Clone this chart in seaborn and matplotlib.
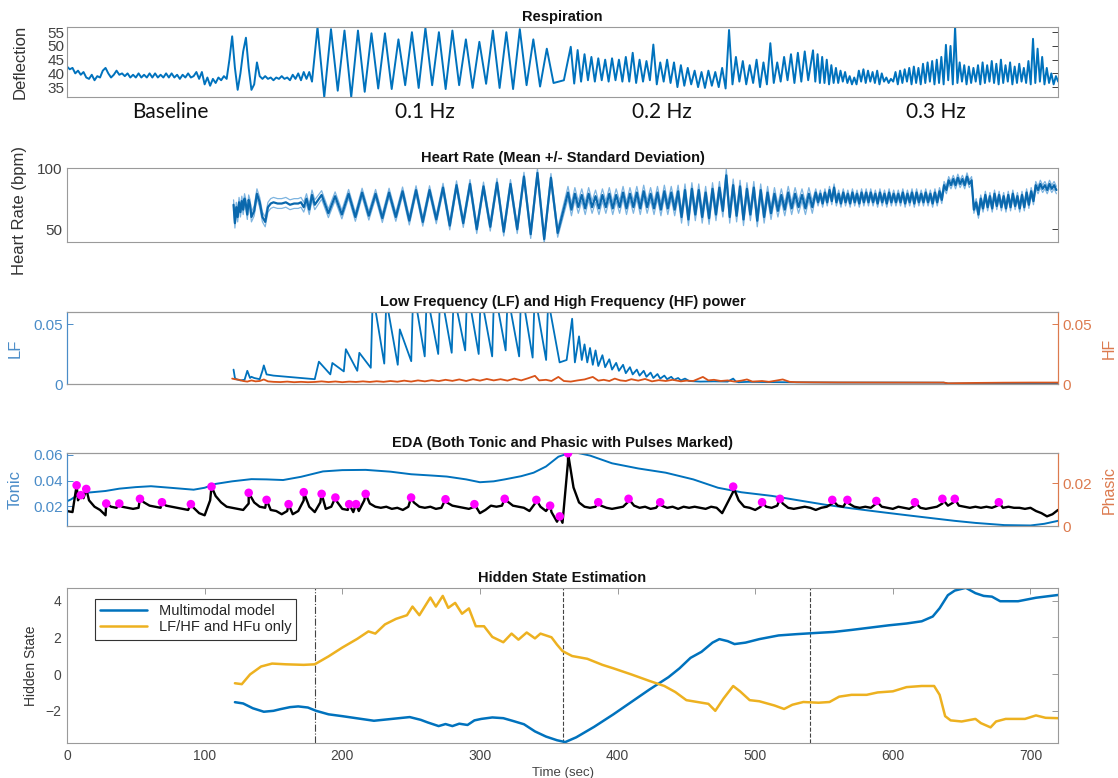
import numpy as np
import pandas as pd
import matplotlib
matplotlib.use('Agg')
import matplotlib.pyplot as plt
import matplotlib.transforms as mtransforms
import seaborn as sns

# ---------------- values ----------------
# Respiration, unpaced part (every 2 s from 0 to 178 s)
resp_base_t = list(range(0, 180, 2))
resp_base = [42.5, 41.5, 42, 40, 41, 39.5, 40.5, 38.5, 38, 39.5,
             37.5, 39, 38.5, 41, 42, 40, 38.5, 39.5, 41, 39.5,
             40, 39, 40, 38.5, 39.5, 38.5, 40, 38.5, 39.5, 38.5,
             40, 38.5, 40, 38.5, 39.5, 38.5, 40, 38.5, 40, 38.5,
             39.5, 38, 39.5, 38.5, 40, 38.5, 39, 40.5, 38, 40.5,
             36, 38.5, 35.5, 38, 36.5, 38.5, 37.5, 39, 38, 45,
             53.5, 42, 34, 40, 48, 53, 42, 34, 36, 44,
             39, 38, 39, 38, 38.5, 37.5, 38.5, 38, 39, 38,
             38.5, 37.5, 39.5, 38, 40, 37.5, 40.5, 38, 40.5, 37]
# paced breathing: one peak and one trough per breath
resp_01_start, resp_01_period = 182, 9.8
resp_01_peak = [56.8, 56.1, 55.6, 55.6, 54.6, 54.6, 52.4, 55.0, 56.5,
                55.0, 55.6, 52.4, 51.5, 55.6, 55.0, 56.1, 52.4, 49.0]
resp_01_trough = [31.4, 33.7, 31.4, 33.3, 34.5, 34.3, 35.7, 34.7, 35.7,
                  34.3, 35.7, 34.7, 36.2, 34.7, 34.3, 35.7, 35.2, 36.5]
resp_gap = [(361, 37.5)]
resp_02_start, resp_02_period = 366, 5.0
resp_02_peak = [49.7, 48.5, 47, 46, 45.5, 45, 45.5, 45, 46, 47.5,
                45, 44.5, 50.5, 44, 45, 44, 43, 42, 41, 40.5,
                41, 40.5, 42, 55.8, 46, 44.5, 43, 45, 44, 51,
                44, 46, 47, 47.5, 48]
resp_02_trough = [36.3, 37, 37.5, 37, 37.5, 37, 37.5, 37, 37, 36.5,
                  37, 37.5, 36, 37, 36.5, 35, 35.5, 36, 35, 34.7,
                  35.5, 35, 34.5, 36, 37, 36, 36.5, 35, 36, 36.5,
                  37, 37.5, 36.5, 37, 37.5]
resp_03_start, resp_03_period = 542, 3.33
resp_03_peak = [48.4, 47, 46, 45, 43, 42, 41, 40.5, 39, 38.5,
                41, 41.5, 41, 40.5, 41, 40, 38.5, 38, 40.5, 41,
                41.5, 42, 42.5, 42, 43.5, 44, 44.5, 45, 46, 50.4,
                50, 57, 44, 43, 42.5, 42, 43, 44, 43, 44.5,
                43.5, 45, 43, 44, 42.5, 43.5, 42, 44.5, 52.6, 49,
                46, 42, 40, 39]
resp_03_trough = [37, 36.5, 36.5, 36, 36.5, 36.5, 37, 36.5, 36, 36,
                  37, 36.5, 37, 36.5, 36, 37, 36.5, 37, 36, 36.5,
                  37, 36, 36.5, 36, 36.5, 37, 36, 36.5, 36, 37.5,
                  36, 36.5, 37, 36, 36.5, 37, 36, 36.5, 37, 36.5,
                  36, 36.5, 37, 36, 36.5, 37, 36.5, 36, 36.5, 37,
                  36, 36.5, 36, 37]
phase_names = ['Baseline', '0.1 Hz', '0.2 Hz', '0.3 Hz']
phase_label_t = [75, 260, 432, 631]

# Heart rate (bpm): mean and standard deviation
hr_a = [(121, 70), (122, 55), (123, 68), (124, 60), (125, 72), (126, 64), (127, 73),
        (128, 66), (129, 75), (130, 70), (131, 62), (132, 74), (133, 70), (134, 60),
        (136, 65), (138, 79), (140, 72), (142, 60), (144, 56), (146, 68), (148, 71),
        (150, 72), (153, 71), (156, 71), (159, 72), (162, 70), (165, 71), (168, 71),
        (170, 72), (172, 68), (174, 75), (176, 66), (178, 78), (180, 70)]
hr_b_start, hr_b_period = 185, 9.8
hr_b_peak = [78, 77, 79, 80, 79, 80, 81, 82, 82, 84, 86, 87, 85, 88, 87, 93, 96, 92]
hr_b_trough = [63, 62, 60, 61, 59, 60, 57, 56, 58, 53, 55, 50, 52, 48, 50, 46, 42, 47]
hr_c_start, hr_c_period = 364, 5.0
hr_c_peak = [80, 79, 78, 79, 77, 78, 79, 78, 80, 79, 80, 81, 79, 80, 81, 80, 81, 82,
             83, 82, 80, 83, 84, 94, 86, 85, 83, 84, 82, 80, 79, 78, 80, 79, 78, 79]
hr_c_trough = [66, 68, 67, 68, 67, 68, 67, 68, 67, 68, 67, 68, 67, 66, 67, 66, 60, 58,
               62, 60, 59, 62, 65, 60, 61, 58, 62, 57, 60, 63, 65, 66, 67, 68, 67, 68]
hr_d_start, hr_d_period = 544, 3.33
hr_d_peak = [80, 79, 80, 82, 84, 79, 80, 79, 80, 79, 80, 80, 80, 79, 80, 79, 80, 79,
             79, 80, 79, 80, 80, 79, 80, 79, 80, 81, 86, 90, 91, 92, 91, 93, 90, 72,
             75, 78, 77, 79, 78, 77, 78, 79, 77, 78, 80, 81, 86, 87, 86, 87, 86]
hr_d_trough = [72, 71, 72, 73, 72, 71, 72, 71, 72, 71, 72, 72, 72, 71, 72, 71, 72, 72,
               72, 71, 72, 71, 72, 72, 72, 71, 72, 74, 82, 86, 86, 87, 86, 87, 66, 62,
               67, 68, 67, 69, 68, 67, 68, 69, 67, 68, 70, 73, 82, 83, 82, 83, 82]
hr_sd = {'a': 4.0, 'b': 3.5, 'c': 5.0, 'd': 3.0}

# LF / HF power
lf_a = [(121, 0.012), (122, 0.005), (123, 0.004), (126, 0.003), (129, 0.0035),
        (131, 0.011), (133, 0.005), (134, 0.006), (136, 0.005), (140, 0.004),
        (142, 0.011), (143, 0.0155), (145, 0.008), (150, 0.007), (155, 0.0065),
        (160, 0.006), (165, 0.0055), (170, 0.005), (175, 0.0045), (180, 0.004)]
lf_b_start, lf_b_period = 183, 9.8
lf_b_peak = [0.0186, 0.0175, 0.029, 0.026, 0.075, 0.07, 0.0455, 0.08, 0.075,
             0.08, 0.075, 0.08, 0.075, 0.08, 0.075, 0.08, 0.075, 0.07]
lf_b_trough = [0.008, 0.0105, 0.011, 0.0135, 0.017, 0.016, 0.019, 0.023, 0.025,
               0.026, 0.028, 0.025, 0.023, 0.028, 0.023, 0.022, 0.02, 0.018]
lf_c = [(363, 0.02), (367, 0.0544), (369, 0.018), (372, 0.0397), (374, 0.02), (376, 0.033),
        (378, 0.018), (380, 0.03), (382, 0.016), (384, 0.028), (386, 0.015), (389, 0.024),
        (391, 0.014), (394, 0.0206), (396, 0.012), (399, 0.0176), (401, 0.011), (404, 0.016),
        (406, 0.009), (409, 0.014), (411, 0.008), (414, 0.012), (416, 0.007), (419, 0.011),
        (421, 0.006), (424, 0.0095), (426, 0.005), (429, 0.0083), (431, 0.0045), (434, 0.007),
        (436, 0.004), (439, 0.006), (441, 0.0035), (444, 0.005), (446, 0.003), (449, 0.0045),
        (452, 0.0025), (460, 0.002), (470, 0.0022), (480, 0.002), (484, 0.0045), (486, 0.002),
        (488, 0.0015), (495, 0.0018), (510, 0.0016), (530, 0.0014), (560, 0.0012),
        (600, 0.0012), (637, 0.0011), (640, 0.0004), (680, 0.0004), (720, 0.0005)]
hf = [(120, .0045), (122, .004), (125, .0035), (128, .0025), (131, .002), (134, .003),
      (137, .0022), (140, .0025), (143, .0038), (146, .0022), (150, .0018), (155, .0016),
      (160, .002), (165, .0015), (170, .0018), (175, .0015), (180, .0017), (185, .0022),
      (190, .0016), (195, .0021), (200, .0015), (205, .002), (210, .0017), (215, .0022),
      (220, .0017), (225, .0023), (230, .0018), (235, .0025), (240, .0019), (245, .0028),
      (250, .002), (255, .003), (260, .0022), (265, .0032), (270, .0024), (275, .0035),
      (280, .0026), (285, .0038), (290, .0025), (295, .004), (300, .0028), (305, .0042),
      (310, .003), (315, .004), (320, .0028), (325, .0045), (330, .003), (335, .0048),
      (340, .0068), (343, .003), (348, .0035), (352, .0025), (357, .0059), (361, .0025),
      (366, .002), (371, .003), (376, .0038), (382, .0059), (386, .0028), (390, .0035),
      (394, .0025), (398, .0045), (402, .003), (406, .0025), (410, .004), (415, .0028),
      (420, .0042), (425, .0022), (430, .0032), (435, .0025), (440, .0035), (446, .0022),
      (450, .0028), (455, .0025), (462, .0059), (466, .003), (470, .0035), (475, .0025),
      (480, .003), (485, .002), (490, .0028), (494, .0038), (498, .002), (505, .0025),
      (510, .0018), (515, .0028), (520, .0038), (525, .0018), (530, .0015), (540, .0014),
      (560, .0013), (600, .0012), (637, .0012), (640, .0006), (660, .0009), (680, .0011),
      (700, .0012), (720, .0012)]

# EDA: tonic level and phasic signal with detected pulses
tonic = [(0, 0.024), (3, 0.0255), (8, 0.029), (12, 0.0305), (18, 0.031), (28, 0.032),
         (38, 0.0338), (50, 0.035), (61, 0.0357), (75, 0.0345), (92, 0.033), (100, 0.0345),
         (108, 0.0375), (120, 0.0395), (134, 0.0412), (145, 0.041), (157, 0.0405),
         (170, 0.043), (186, 0.0472), (200, 0.0482), (217, 0.0484), (235, 0.047),
         (250, 0.045), (265, 0.044), (276, 0.0432), (290, 0.041), (300, 0.0388),
         (310, 0.0395), (318, 0.041), (330, 0.0435), (339, 0.0462), (348, 0.051),
         (357, 0.0586), (364, 0.0612), (370, 0.0618), (380, 0.0595), (396, 0.0535),
         (415, 0.0495), (435, 0.0462), (455, 0.041), (473, 0.0345), (490, 0.031),
         (512, 0.0282), (530, 0.025), (551, 0.0213), (570, 0.0185), (590, 0.0158),
         (610, 0.0132), (629, 0.0108), (645, 0.0088), (660, 0.0072), (681, 0.0055),
         (700, 0.0052), (710, 0.0065), (720, 0.0088)]
phasic_t = list(range(0, 724, 4))
phasic = [0.007, 0.0065, 0.012, 0.013, 0.012, 0.009, 0.0075, 0.005, 0.009, 0.0085,
          0.009, 0.0085, 0.008, 0.0085, 0.011, 0.0095, 0.009, 0.0085, 0.0095, 0.009,
          0.0085, 0.008, 0.0075, 0.0085, 0.006, 0.005, 0.012, 0.014, 0.011, 0.009,
          0.0085, 0.008, 0.0075, 0.0105, 0.011, 0.009, 0.0085, 0.0075, 0.007, 0.0055,
          0.007, 0.0055, 0.007, 0.012, 0.009, 0.0065, 0.011, 0.008, 0.009, 0.0115,
          0.008, 0.0075, 0.0065, 0.007, 0.012, 0.0105, 0.009, 0.0085, 0.009, 0.008,
          0.0085, 0.0075, 0.009, 0.011, 0.009, 0.0085, 0.009, 0.008, 0.0085, 0.011,
          0.0095, 0.009, 0.0085, 0.008, 0.009, 0.006, 0.0075, 0.0095, 0.009, 0.0095,
          0.0115, 0.0095, 0.009, 0.0085, 0.007, 0.0105, 0.009, 0.007, 0.0065, 0.002,
          0.0015, 0.03, 0.018, 0.011, 0.009, 0.0085, 0.009, 0.0095, 0.0085, 0.008,
          0.0085, 0.009, 0.0115, 0.0095, 0.0085, 0.009, 0.008, 0.0085, 0.0095, 0.0085,
          0.009, 0.008, 0.009, 0.0085, 0.009, 0.0085, 0.008, 0.009, 0.0085, 0.006,
          0.011, 0.016, 0.012, 0.009, 0.0085, 0.0075, 0.009, 0.009, 0.0085, 0.0095,
          0.0105, 0.0085, 0.008, 0.0085, 0.009, 0.0085, 0.0075, 0.0085, 0.009, 0.0105,
          0.0095, 0.009, 0.0105, 0.009, 0.0085, 0.009, 0.0085, 0.0105, 0.009, 0.0085,
          0.008, 0.009, 0.0085, 0.008, 0.0095, 0.0085, 0.008, 0.0085, 0.009, 0.0105,
          0.0095, 0.011, 0.0095, 0.009, 0.0085, 0.009, 0.0085, 0.009, 0.0085, 0.0095,
          0.0085, 0.009, 0.0085, 0.0085, 0.008, 0.0085, 0.007, 0.006, 0.0045, 0.0055,
          0.0075]
pulses = [(7, 0.019), (10, 0.0144), (14, 0.0173), (28.5, 0.0105), (38, 0.0105),
          (53, 0.0127), (69, 0.0111), (90, 0.0102), (105, 0.0184), (132, 0.0155),
          (145, 0.0122), (161, 0.0102), (172, 0.0158), (185, 0.015), (195, 0.0133),
          (205, 0.0102), (210, 0.0102), (217, 0.015), (250, 0.0133), (275, 0.0125),
          (296, 0.0102), (318, 0.0127), (341, 0.0122), (351, 0.0095), (358, 0.0045),
          (364, 0.034), (386, 0.0111), (408, 0.0127), (431, 0.0111), (484, 0.0184),
          (505, 0.0111), (518, 0.0127), (556, 0.0122), (567, 0.0122), (588, 0.0117),
          (616, 0.0111), (636, 0.0127), (645, 0.0127), (677, 0.0111)]

# Hidden state estimates
hs_multi = [(122, -1.53), (128, -1.6), (135, -1.86), (143, -2.05), (150, -2.0), (155, -1.91),
            (162, -1.8), (168, -1.76), (175, -1.82), (181, -2.0), (190, -2.19), (200, -2.29),
            (211, -2.41), (223, -2.54), (236, -2.44), (249, -2.34), (257, -2.49), (262, -2.63),
            (270, -2.83), (275, -2.72), (280, -2.83), (285, -2.7), (291, -2.77), (296, -2.52),
            (301, -2.44), (309, -2.36), (317, -2.4), (324, -2.55), (332, -2.73), (340, -3.12),
            (348, -3.4), (356, -3.6), (362, -3.7), (370, -3.44), (383, -2.87), (397, -2.19),
            (410, -1.52), (423, -0.85), (437, -0.17), (445, 0.31), (453, 0.88), (461, 1.21),
            (469, 1.71), (474, 1.9), (480, 1.79), (485, 1.63), (493, 1.71), (503, 1.9),
            (517, 2.1), (530, 2.17), (543, 2.23), (557, 2.29), (570, 2.4), (583, 2.52),
            (597, 2.65), (610, 2.75), (621, 2.87), (629, 3.13), (634, 3.58), (640, 4.29),
            (645, 4.54), (653, 4.69), (660, 4.4), (666, 4.25), (672, 4.21), (678, 3.96),
            (691, 3.96), (704, 4.15), (720, 4.3)]
hs_lfhf = [(122, -0.5), (127, -0.55), (133, -0.02), (141, 0.41), (149, 0.57), (159, 0.53),
           (172, 0.5), (180, 0.53), (190, 0.96), (200, 1.44), (211, 1.92), (219, 2.32),
           (224, 2.2), (231, 2.7), (239, 3.0), (247, 3.2), (251, 3.67), (256, 3.2),
           (264, 4.16), (268, 3.67), (273, 4.25), (277, 3.6), (282, 3.87), (287, 3.28),
           (292, 3.57), (297, 2.6), (303, 2.6), (309, 2.02), (317, 1.73), (323, 2.2),
           (328, 1.87), (334, 2.26), (340, 1.94), (344, 2.2), (352, 2.0), (356, 1.6),
           (360, 1.25), (367, 0.98), (378, 0.83), (389, 0.5), (397, 0.31), (410, -0.02),
           (423, -0.37), (434, -0.65), (442, -0.98), (450, -1.42), (458, -1.52), (466, -1.62),
           (471, -2.0), (477, -1.33), (484, -0.65), (489, -0.94), (496, -1.42), (503, -1.48),
           (514, -1.71), (521, -1.9), (527, -1.67), (535, -1.52), (546, -1.56), (554, -1.52),
           (561, -1.23), (570, -1.13), (581, -1.13), (589, -1.0), (600, -0.94), (610, -0.71),
           (621, -0.65), (630, -0.65), (634, -1.13), (638, -2.29), (642, -2.52), (650, -2.58),
           (660, -2.44), (664, -2.67), (671, -2.9), (675, -2.58), (682, -2.44), (696, -2.44),
           (704, -2.25), (711, -2.38), (720, -2.4)]
phase_bounds = [180, 360, 540]
phase_styles = ['-.', '--', '--']

# ---------------- helpers ----------------
BLUE = '#0072BD'
ORANGE = '#D95319'
YELLOW = '#EDB120'
AX_BLUE = '#4a8cc8'
AX_ORANGE = '#dc7a4e'


def paced(start, period, peaks, troughs, offset):
    t, v = [], []
    for i, (p, q) in enumerate(zip(peaks, troughs)):
        t += [start + i * period, start + i * period + offset]
        v += [p, q]
    return t, v


def frame(pairs):
    t, v = zip(*pairs)
    return pd.DataFrame({'t': t, 'v': v})


def style(ax, left_color='#9a9a9a', right_color='#9a9a9a'):
    for name, s in ax.spines.items():
        s.set_linewidth(0.8)
        s.set_color('#9a9a9a')
    ax.spines['left'].set_color(left_color)
    ax.spines['right'].set_color(right_color)
    ax.set_xlim(0, 720)
    ax.set_xticks([])
    ax.tick_params(axis='y', direction='in', length=4, width=0.7,
                   colors='#404040', labelsize=10.5, pad=3)
    ax.set_xlabel('')


# ---------------- figure ----------------
sns.set_theme(style='white')
plt.rcParams['font.family'] = ['Liberation Sans', 'DejaVu Sans']

fig = plt.figure(figsize=(11.18, 7.78), dpi=100)
L, W = 67 / 1118, 991 / 1118


def box(top, bottom):
    return [L, 1 - bottom / 778, W, (bottom - top) / 778]


ax1 = fig.add_axes(box(27, 97))
ax2 = fig.add_axes(box(168, 242))
ax3 = fig.add_axes(box(312, 384))
ax4 = fig.add_axes(box(453, 526))
ax5 = fig.add_axes(box(588, 743))
title_kw = dict(fontweight='bold', fontsize=10.5, pad=4, color='#111111')

# --- respiration
rt, rv = list(resp_base_t), list(resp_base)
seg = paced(resp_01_start, resp_01_period, resp_01_peak, resp_01_trough, resp_01_period / 2)
rt += seg[0]; rv += seg[1]
rt += [g[0] for g in resp_gap]; rv += [g[1] for g in resp_gap]
for seg in [paced(resp_02_start, resp_02_period, resp_02_peak, resp_02_trough, resp_02_period / 2),
            paced(resp_03_start, resp_03_period, resp_03_peak, resp_03_trough, resp_03_period / 2)]:
    rt += seg[0]; rv += seg[1]
resp = pd.DataFrame({'t': rt, 'v': rv})
sns.lineplot(data=resp, x='t', y='v', ax=ax1, color=BLUE, lw=1.4, estimator=None, sort=False)
style(ax1)
ax1.set_ylim(31.4, 56.9)
ax1.set_yticks([35, 40, 45, 50, 55])
ax1.tick_params(axis='y', right=True, labelsize=11, pad=2)
ax1.set_ylabel('Deflection', fontsize=12, color='#333333')
ax1.yaxis.set_label_coords(-0.040, 0.5)
ax1.set_title('Respiration', **title_kw)
trans = mtransforms.blended_transform_factory(ax1.transData, ax1.transAxes)
for name, t in zip(phase_names, phase_label_t):
    ax1.text(t, -0.22, name, transform=trans, ha='center', va='center',
             fontsize=15, family=['Lato', 'DejaVu Sans'], color='#111111')

# --- heart rate
ht, hv, hs = [g[0] for g in hr_a], [g[1] for g in hr_a], ['a'] * len(hr_a)
for key, seg in [('b', paced(hr_b_start, hr_b_period, hr_b_peak, hr_b_trough, hr_b_period / 2)),
                 ('c', paced(hr_c_start, hr_c_period, hr_c_peak, hr_c_trough, hr_c_period / 2)),
                 ('d', paced(hr_d_start, hr_d_period, hr_d_peak, hr_d_trough, hr_d_period / 2))]:
    ht += seg[0]; hv += seg[1]; hs += [key] * len(seg[0])
hr = pd.DataFrame({'t': ht, 'mean': hv, 'seg': hs})
hr['sd'] = hr['seg'].map(hr_sd)
hr['upper'] = hr['mean'] + hr['sd']
hr['lower'] = hr['mean'] - hr['sd']
for col in ['upper', 'lower']:
    sns.lineplot(data=hr, x='t', y=col, ax=ax2, color='#7db4e0', lw=0.9,
                 estimator=None, sort=False)
sns.lineplot(data=hr, x='t', y='mean', ax=ax2, color='#0a68ad', lw=1.6,
             estimator=None, sort=False)
style(ax2)
ax2.set_ylim(39.6, 100)
ax2.set_yticks([50, 100])
ax2.tick_params(axis='y', right=True, labelsize=11)
ax2.set_ylabel('Heart Rate (bpm)', fontsize=12, color='#333333')
ax2.yaxis.set_label_coords(-0.040, 0.42)
ax2.set_title('Heart Rate (Mean +/- Standard Deviation)', **title_kw)

# --- LF / HF
lt, lv = [g[0] for g in lf_a], [g[1] for g in lf_a]
seg = paced(lf_b_start, lf_b_period, lf_b_peak, lf_b_trough, 8.3)
lt += seg[0]; lv += seg[1]
lt += [g[0] for g in lf_c]; lv += [g[1] for g in lf_c]
lf = pd.DataFrame({'t': lt, 'v': lv})
sns.lineplot(data=lf, x='t', y='v', ax=ax3, color=BLUE, lw=1.3, estimator=None, sort=False)
ax3r = ax3.twinx()
sns.lineplot(data=frame(hf), x='t', y='v', ax=ax3r, color=ORANGE, lw=1.3,
             estimator=None, sort=False)
style(ax3, left_color=AX_BLUE, right_color=AX_ORANGE)
style(ax3r, left_color=AX_BLUE, right_color=AX_ORANGE)
ax3.set_ylim(0, 0.06)
ax3r.set_ylim(0, 0.06)
ax3.set_yticks([0, 0.05])
ax3.set_yticklabels(['0', '0.05'])
ax3r.set_yticks([0, 0.05])
ax3r.set_yticklabels(['0', '0.05'])
ax3.tick_params(axis='y', colors=AX_BLUE, labelsize=11)
ax3r.tick_params(axis='y', colors=AX_ORANGE, labelsize=11)
ax3.set_ylabel('LF', fontsize=12, color=AX_BLUE)
ax3.yaxis.set_label_coords(-0.045, 0.5)
ax3r.set_ylabel('HF', fontsize=11.5, color=AX_ORANGE)
ax3r.yaxis.set_label_coords(1.044, 0.5)
ax3.set_title('Low Frequency (LF) and High Frequency (HF) power', **title_kw)

# --- EDA
sns.lineplot(data=frame(tonic), x='t', y='v', ax=ax4, color=BLUE, lw=1.4,
             estimator=None, sort=False)
ax4r = ax4.twinx()
ph = pd.concat([pd.DataFrame({'t': phasic_t, 'v': phasic}), frame(pulses)])
ph = ph.sort_values('t', kind='stable')
sns.lineplot(data=ph, x='t', y='v', ax=ax4r, color='black', lw=1.7,
             estimator=None, sort=False)
sns.scatterplot(data=frame(pulses), x='t', y='v', ax=ax4r, color='#ff00ff',
                s=38, edgecolor='none', zorder=5)
style(ax4, left_color=AX_BLUE, right_color=AX_ORANGE)
style(ax4r, left_color=AX_BLUE, right_color=AX_ORANGE)
ax4.set_ylim(0.0048, 0.0615)
ax4.set_yticks([0.02, 0.04, 0.06])
ax4.set_yticklabels(['0.02', '0.04', '0.06'])
ax4r.set_ylim(0, 0.0341)
ax4r.set_yticks([0, 0.02])
ax4r.set_yticklabels(['0', '0.02'])
ax4.tick_params(axis='y', colors=AX_BLUE, labelsize=11)
ax4r.tick_params(axis='y', colors=AX_ORANGE, labelsize=11)
ax4.set_ylabel('Tonic', fontsize=12, color=AX_BLUE)
ax4.yaxis.set_label_coords(-0.045, 0.5)
ax4r.set_ylabel('Phasic', fontsize=11.5, color=AX_ORANGE)
ax4r.yaxis.set_label_coords(1.044, 0.5)
ax4.set_title('EDA (Both Tonic and Phasic with Pulses Marked)', **title_kw)

# --- hidden state
sns.lineplot(data=frame(hs_multi), x='t', y='v', ax=ax5, color=BLUE, lw=1.8,
             estimator=None, sort=False, label='Multimodal model')
sns.lineplot(data=frame(hs_lfhf), x='t', y='v', ax=ax5, color=YELLOW, lw=1.8,
             estimator=None, sort=False, label='LF/HF and HFu only')
for x, ls in zip(phase_bounds, phase_styles):
    ax5.axvline(x, color='#444444', lw=0.8, ls=ls, zorder=1)
for s in ax5.spines.values():
    s.set_color('#9a9a9a')
    s.set_linewidth(0.8)
ax5.set_xlim(0, 720)
ax5.set_ylim(-3.75, 4.68)
ax5.set_xticks(range(0, 701, 100))
ax5.set_yticks([-2, 0, 2, 4])
ax5.tick_params(direction='in', length=4, width=0.7, colors='#9a9a9a',
                labelcolor='#444444', labelsize=10, top=True, right=True, pad=4)
ax5.set_xlabel('Time (sec)', fontsize=9.5, color='#444444', labelpad=3)
ax5.set_ylabel('Hidden State', fontsize=10, color='#333333')
ax5.yaxis.set_label_coords(-0.029, 0.5)
ax5.set_title('Hidden State Estimation', **title_kw)
leg = ax5.legend(loc='upper left', bbox_to_anchor=(0.021, 0.975), fontsize=10.5,
                 handlelength=3.2, borderpad=0.35, labelspacing=0.15,
                 fancybox=False, framealpha=1, edgecolor='#333333')
leg.get_frame().set_linewidth(0.8)

fig.savefig('out.png', dpi=100)
